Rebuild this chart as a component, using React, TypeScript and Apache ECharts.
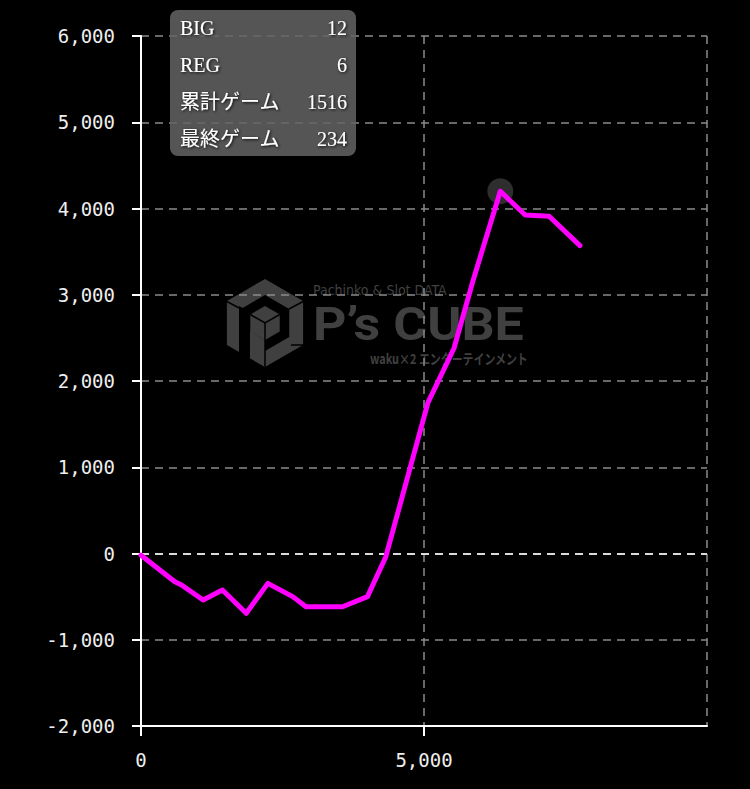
import React, { useEffect, useRef } from "react";
import * as echarts from "echarts";

// Game count (x) and coin difference (y)
const gameCounts = [0, 598, 716, 1097, 1438, 1860, 2241, 2681, 2916, 3561, 4001, 4324, 5070, 5530, 5860, 6348, 6788, 7210, 7756];
const coinDiffs = [-20, -327, -365, -540, -423, -693, -346, -500, -617, -617, -500, -40, 1750, 2380, 3150, 4200, 3925, 3910, 3570];

const infoLabels = ["BIG", "REG", "累計ゲーム", "最終ゲーム"];
const infoValues = ["12", "6", "1516", "234"];

const xMin = 0;
const xMax = 10000;
const xStep = 5000;
const yMin = -2000;
const yMax = 6000;
const yStep = 1000;

const commas = (v: number) => String(v).replace(/\B(?=(\d{3})+(?!\d))/g, ",");

export default function App() {
  const ref = useRef<HTMLDivElement>(null);
  useEffect(() => {
    document.body.style.margin = "0";
    document.body.style.background = "#000";
    const chart = echarts.init(ref.current!, null, { renderer: "svg" });

    let peakIdx = 0;
    coinDiffs.forEach((v, i) => {
      if (v > coinDiffs[peakIdx]) peakIdx = i;
    });

    const wm = "#404040";
    const cx = 265;
    const cy = 323;
    const hex = (r: number, ox = cx, oy = cy) =>
      [90, 30, -30, -90, -150, 150].map((a) => [ox + r * Math.cos((a * Math.PI) / 180), oy - r * Math.sin((a * Math.PI) / 180)]);

    const logo: any[] = [
      { type: "polygon", z: -10, shape: { points: hex(44) }, style: { fill: wm } },
      { type: "polygon", z: -9, shape: { points: hex(28) }, style: { fill: "#000" } },
      { type: "polygon", z: -9, shape: { points: [[239, 306], [250, 312], [250, 372], [239, 372]] }, style: { fill: "#000" } },
      { type: "polygon", z: -8, shape: { points: [[250, 331], [265, 340], [265, 367], [250, 358]] }, style: { fill: wm } },
      { type: "polygon", z: -8, shape: { points: hex(17) }, style: { fill: wm } },
      { type: "polyline", z: -7, shape: { points: [[250.3, 314.5], [265, 323], [279.7, 314.5]] }, style: { stroke: "#000", lineWidth: 1.5, fill: "none" } },
      { type: "line", z: -7, shape: { x1: 265, y1: 323, x2: 265, y2: 368 }, style: { stroke: "#000", lineWidth: 1.5 } },
      { type: "line", z: -7, shape: { x1: 226, y1: 301, x2: 241, y2: 309 }, style: { stroke: "#000", lineWidth: 1.5 } },
      { type: "line", z: -7, shape: { x1: 304, y1: 301, x2: 289, y2: 309 }, style: { stroke: "#000", lineWidth: 1.5 } },
      { type: "line", z: -7, shape: { x1: 291, y1: 345, x2: 304, y2: 345 }, style: { stroke: "#000", lineWidth: 1.5 } },
      {
        type: "text", z: -7, x: 313, y: 297,
        style: { text: "Pachinko & Slot DATA", fill: wm, font: "14px 'DejaVu Sans Condensed', 'DejaVu Sans'", textVerticalAlign: "bottom" },
      },
      {
        type: "text", z: -7, x: 313, y: 324, scaleX: 1.13,
        style: { text: "P’s CUBE", fill: wm, font: "bold 46px Roboto", textVerticalAlign: "middle" },
      },
      {
        type: "text", z: -7, x: 370, y: 358, scaleX: 0.78,
        style: { text: "waku×2 エンターテインメント", fill: wm, font: "bold 14px 'Noto Sans CJK JP'", textVerticalAlign: "middle" },
      },
    ];

    const rowY = [28, 65, 102, 139];
    const info: any[] = [
      { type: "rect", z: 100, shape: { x: 170, y: 10, width: 186, height: 146, r: 8 }, style: { fill: "rgba(100,100,100,0.85)" } },
    ];
    infoLabels.forEach((lab, i) => {
      const common = {
        fill: "#fff",
        font: "20px 'Liberation Serif', 'Noto Sans CJK JP', serif",
        textVerticalAlign: "middle",
        textShadowColor: "rgba(0,0,0,0.9)",
        textShadowBlur: 3,
        textShadowOffsetX: 1,
        textShadowOffsetY: 1,
      };
      info.push({ type: "text", z: 101, x: 180, y: rowY[i], style: { ...common, text: lab, textAlign: "left" } });
      info.push({ type: "text", z: 101, x: 347, y: rowY[i], style: { ...common, text: infoValues[i], textAlign: "right" } });
    });

    const labelStyle = {
      color: "#eeeeee",
      fontFamily: "'DejaVu Sans Mono', monospace",
      fontSize: 19,
      formatter: (v: number) => commas(v),
    };

    chart.setOption({
      animation: false,
      backgroundColor: "#000",
      grid: { left: 141, right: 43, top: 36, bottom: 63 },
      xAxis: {
        type: "value",
        min: xMin,
        max: xMax,
        interval: xStep,
        axisLine: { show: true, onZero: false, lineStyle: { color: "#fff", width: 2 } },
        axisTick: { show: true, length: 10, lineStyle: { color: "#fff", width: 2 } },
        axisLabel: { ...labelStyle, margin: 24, showMaxLabel: false },
        splitLine: { show: true, lineStyle: { color: "#8a8a8a", width: 1.5, type: [8, 6] } },
      },
      yAxis: {
        type: "value",
        min: yMin,
        max: yMax,
        interval: yStep,
        axisLine: { show: true, onZero: false, lineStyle: { color: "#fff", width: 2 } },
        axisTick: { show: true, length: 9, lineStyle: { color: "#fff", width: 2 } },
        axisLabel: { ...labelStyle, margin: 26 },
        splitLine: { show: true, lineStyle: { color: "#8a8a8a", width: 1.5, type: [8, 6] } },
      },
      graphic: [...logo, ...info],
      series: [
        {
          type: "scatter",
          z: 1,
          silent: true,
          symbol: "circle",
          symbolSize: 26,
          itemStyle: { color: "#3a3a3a" },
          data: [[gameCounts[peakIdx], coinDiffs[peakIdx]]],
        },
        {
          type: "line",
          z: 3,
          showSymbol: false,
          silent: true,
          lineStyle: { color: "#ff00ff", width: 5, join: "round", cap: "round" },
          data: gameCounts.map((x, i) => [x, coinDiffs[i]]),
          markLine: {
            silent: true,
            z: 1,
            symbol: "none",
            label: { show: false },
            lineStyle: { color: "#fff", width: 1.5, type: [8, 6] },
            data: [{ yAxis: 0 }],
          },
        },
      ],
    });
    return () => chart.dispose();
  }, []);
  return <div ref={ref} style={{ width: 750, height: 789, background: "#000" }} />;
}
